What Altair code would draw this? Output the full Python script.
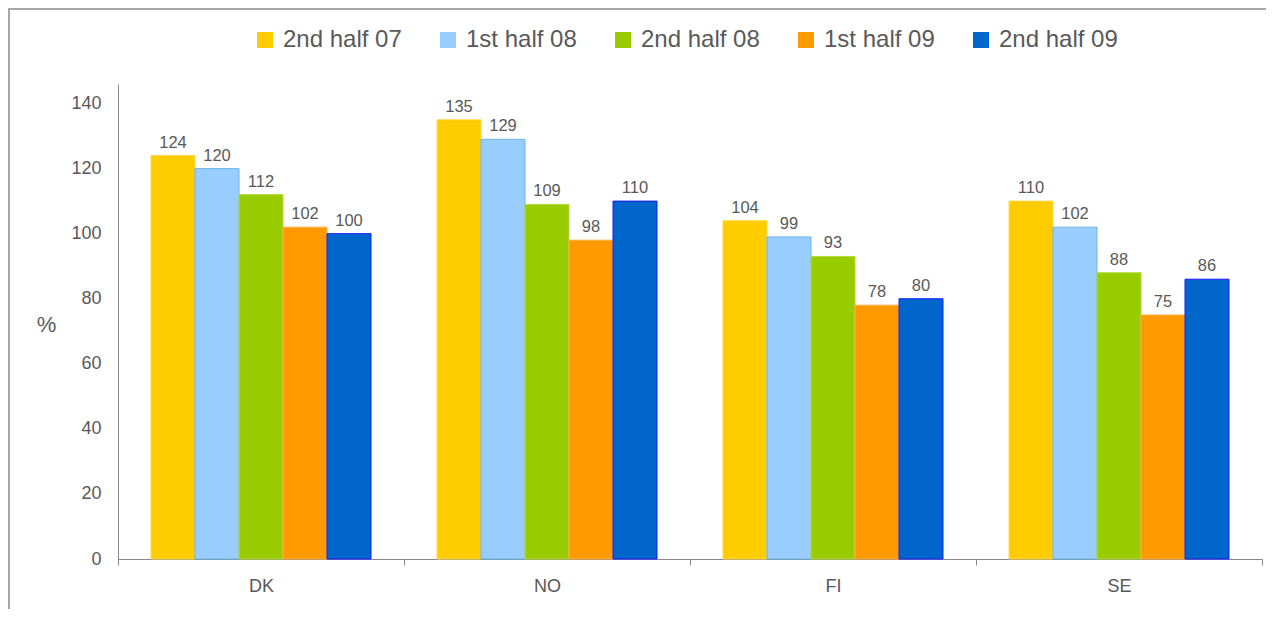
import altair as alt
import pandas as pd

countries = ["DK", "NO", "FI", "SE"]
periods = ["2nd half 07", "1st half 08", "2nd half 08", "1st half 09", "2nd half 09"]
dk = [124, 120, 112, 102, 100]
no = [135, 129, 109, 98, 110]
fi = [104, 99, 93, 78, 80]
se = [110, 102, 88, 75, 86]
fills = ["#FFCC00", "#99CCFF", "#99CC00", "#FF9900", "#0066CC"]
strokes = ["#FFD84D", "#6BB5E6", "#B5DB3D", "#FFAD40", "#1A1AFF"]
y_ticks = [0, 20, 40, 60, 80, 100, 120, 140]

rows = []
for c, vals in zip(countries, [dk, no, fi, se]):
    for p, v in zip(periods, vals):
        rows.append({"country": c, "period": p, "value": v})
df = pd.DataFrame(rows)

FONT = "Liberation Sans"
GRAY = "#595959"
W, H = 1144, 475

x = alt.X("country:N", sort=countries, title=None,
          scale=alt.Scale(paddingInner=0, paddingOuter=0),
          axis=alt.Axis(labelAngle=0, tickBand="extent", tickSize=6, ticks=True,
                        domainColor="#888888", tickColor="#888888",
                        labelFontSize=18, labelColor=GRAY, labelFont=FONT, labelPadding=12))
xo = alt.XOffset("period:N", sort=periods,
                 scale=alt.Scale(paddingInner=0, paddingOuter=0.75))
y = alt.Y("value:Q", title="%",
          scale=alt.Scale(domain=[0, 146], nice=False, zero=True),
          axis=alt.Axis(values=y_ticks, ticks=False, grid=False,
                        domainColor="#888888", labelFontSize=18, labelColor=GRAY,
                        labelFont=FONT, labelPadding=17,
                        titleAngle=0, titleFontSize=22, titleFont=FONT, titleColor=GRAY,
                        titleFontWeight="normal", titleX=-72, titleY=252, titleAlign="center"))

base = alt.Chart(df)

bars = base.mark_bar(strokeWidth=1).encode(
    x=x, xOffset=xo, y=y,
    color=alt.Color("period:N", sort=periods, title=None,
                    scale=alt.Scale(domain=periods, range=fills),
                    legend=alt.Legend(orient="none", direction="horizontal", columns=5,
                                      legendX=135, legendY=-56,
                                      symbolType="square", symbolSize=256,
                                      symbolStrokeWidth=0,
                                      labelFontSize=24, labelFont=FONT, labelColor=GRAY,
                                      labelOffset=6, columnPadding=34)),
    stroke=alt.Stroke("period:N", sort=periods,
                      scale=alt.Scale(domain=periods, range=strokes), legend=None),
)

labels = base.mark_text(baseline="bottom", dy=-5, fontSize=16.5, font=FONT, color=GRAY).encode(
    x=x, xOffset=xo, y=y, text=alt.Text("value:Q")
)

frame_src = pd.DataFrame({"k": [0]})
frame_top = alt.Chart(frame_src).mark_rule(color="#A6A6A6", strokeWidth=2).encode(
    x=alt.value(-110), x2=alt.value(W + 8), y=alt.value(-75)
)
frame_left = alt.Chart(frame_src).mark_rule(color="#A6A6A6", strokeWidth=2).encode(
    x=alt.value(-109), y=alt.value(-76), y2=alt.value(H + 60)
)

chart = alt.layer(bars, labels, frame_top, frame_left).properties(
    width=W, height=H,
    autosize=alt.AutoSizeParams(type="none"),
    padding={"left": 110, "top": 76, "right": 4, "bottom": 50},
).configure(background="white").configure_view(stroke=None, strokeWidth=0)

chart.save("out.html", embed_options={"renderer": "svg", "actions": False})
